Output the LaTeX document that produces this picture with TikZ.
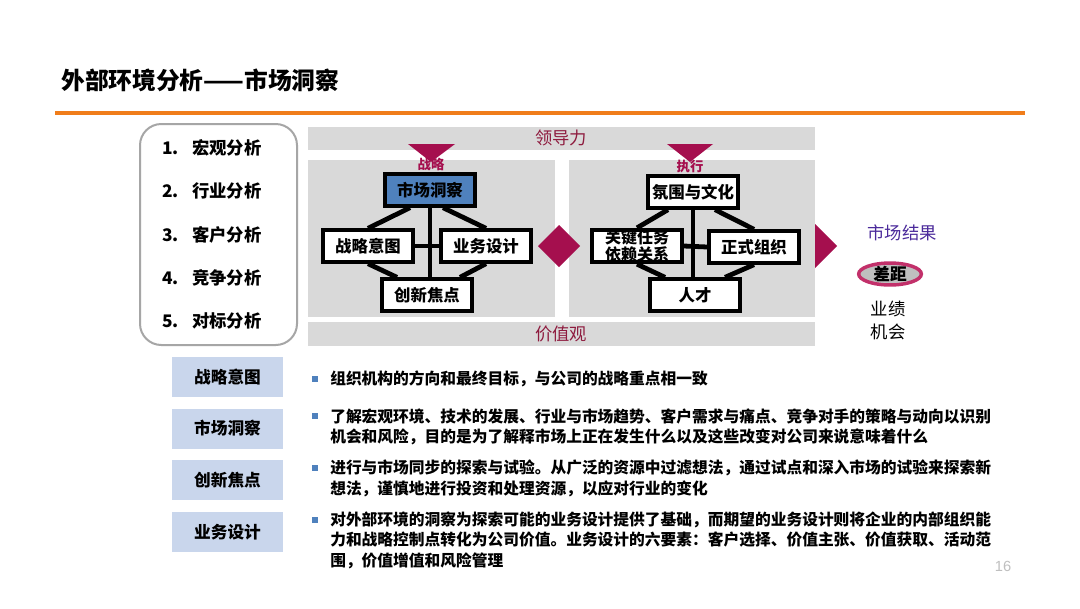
\documentclass[tikz,border=0pt]{standalone}
\usepackage{fontspec}
\setmainfont{Noto Sans CJK SC}
\newfontfamily\numfont{Liberation Sans}
\usetikzlibrary{calc,shapes.geometric}
\pgfdeclarelayer{bg}
\pgfdeclarelayer{mid}
\pgfsetlayers{bg,mid,main}
\definecolor{crim}{HTML}{A50F4E}
\definecolor{crimtxt}{HTML}{8E1B3E}
\definecolor{panel}{HTML}{D9D9D9}
\definecolor{nodeblue}{HTML}{4F81BD}
\definecolor{lblue}{HTML}{C9D6EC}
\definecolor{orng}{HTML}{F07D1A}
\definecolor{listgray}{HTML}{A6A6A6}
\definecolor{purp}{HTML}{4B2A9B}
\definecolor{ellb}{HTML}{C2306A}
\definecolor{pgray}{HTML}{BFBFBF}
\tikzset{
  fs/.style={font=\fontsize{#1}{#1}\selectfont},
  hbox/.style={draw=black, line width=3pt, fill=white, minimum width=67pt, minimum height=23.5pt, inner sep=0pt, font=\fontsize{12.3}{12.75}\selectfont\bfseries, align=center},
  conn/.style={line width=3.6pt, black},
  band/.style={fill=panel, draw=none},
  listnum/.style={anchor=west, inner sep=0pt, font=\fontsize{13}{13}\selectfont\bfseries},
  listtxt/.style={anchor=west, inner sep=0pt, font=\fontsize{13}{13}\selectfont\bfseries},
  lbl/.style={fill=lblue, minimum width=83pt, minimum height=30pt, inner sep=0pt, font=\fontsize{12.5}{12.5}\selectfont\bfseries},
  btxt/.style={anchor=west, inner sep=0pt, font=\fontsize{11.8}{11.8}\selectfont\bfseries},
  bsq/.style={fill=nodeblue, minimum size=4.5pt, inner sep=0pt},
  tri/.style={fill=crim, draw=none},
  smalllbl/.style={text=crim, inner sep=0pt, font=\fontsize{10}{10}\selectfont\bfseries}
}
\begin{document}
\begin{tikzpicture}[x=0.75pt,y=-0.75pt]
\useasboundingbox (0,0) rectangle (1080,608);
\begin{pgfonlayer}{bg}
\fill[white] (0,0) rectangle (1080,608);
% bands and panels
\fill[band] (308,127) rectangle (815,150);
\fill[band] (308,322) rectangle (815,346);
\fill[band] (308,160) rectangle (555,317);
\fill[band] (569,160) rectangle (815,317);
\end{pgfonlayer}
% title
\node[anchor=west, inner sep=0pt, font=\fontsize{17.8}{17.8}\selectfont\bfseries] (title) at (61,80) {外部环境分析——市场洞察};
\draw[orng, line width=3pt] (55,113) -- (1025,113);
% left list
\draw[listgray, line width=1.5pt, rounded corners=16pt] (140,124) rectangle (297,345);
\foreach \i/\t/\y in {1/宏观分析/148,2/行业分析/191,3/客户分析/235,4/竞争分析/278,5/对标分析/321}{
  \node[listnum] (n\i) at (162,\y) {\i.};
  \node[listtxt] (l\i) at (192,\y) {\t};
}
\node[text=crimtxt, fs=13] (ldl) at (561,138) {领导力};
\node[text=crimtxt, fs=13] (jzg) at (561,334) {价值观};
% triangles and diamond
\fill[tri] (408,144) -- (455,144) -- (431,162) -- cycle;
\fill[tri] (667,144) -- (713,144) -- (690,162) -- cycle;
\fill[tri] (559,225) -- (580,246) -- (559,267) -- (538,246) -- cycle;
\fill[tri] (815,224) -- (837,246) -- (815,268) -- cycle;
% left panel
\node[hbox, fill=nodeblue] (sc) at (430,190) {市场洞察};
\node[hbox] (zl) at (368,246) {战略意图};
\node[hbox] (yw) at (486,246) {业务设计};
\node[hbox] (cx) at (427,295) {创新焦点};
% right panel
\node[hbox] (fw) at (693,192) {氛围与文化};
\node[hbox, font=\fontsize{12}{11.5}\selectfont\bfseries] (gj) at (637,246) {关键任务\\依赖关系};
\node[hbox] (zs) at (754,247) {正式组织};
\node[hbox] (rc) at (695,295) {人才};
% connectors behind boxes
\begin{pgfonlayer}{mid}
\draw[conn] (sc.south) -- (sc.south |- cx.north);
\draw[conn] (zl.east) -- (yw.west);
\draw[conn] ($(sc.south)+(-20,0)$) -- (zl.north);
\draw[conn] ($(sc.south)+(13,0)$) -- (yw.north);
\draw[conn] (zl.south) -- ($(cx.north)+(-30,0)$);
\draw[conn] (yw.south) -- ($(cx.north)+(33,0)$);
\draw[conn] (fw.south) -- (fw.south |- rc.north);
\draw[conn] (gj.east) -- (zs.west);
\draw[conn] ($(fw.south)+(-25,0)$) -- (gj.north);
\draw[conn] ($(fw.south)+(22,0)$) -- (zs.north);
\draw[conn] (gj.south) -- ($(rc.north)+(-30,0)$);
\draw[conn] (zs.south) -- ($(rc.north)+(30,0)$);
\end{pgfonlayer}
\node[smalllbl] (zlt) at (431,164) {战略};
\node[smalllbl] (zxt) at (690,166) {执行};
% right side
\node[text=purp, fs=13] (scjg) at (902,233) {市场结果};
\node[ellipse, draw=ellb, line width=2.6pt, fill=pgray, minimum width=47pt, minimum height=15pt, inner sep=0pt, font=\fontsize{12.5}{12.5}\selectfont\bfseries] (cj) at (890,274) {差距};
\node[fs=13, inner sep=0pt] (yj) at (888,309) {业绩};
\node[fs=13, inner sep=0pt] (jh) at (888,332) {机会};
% bottom labels
\node[lbl] (L1) at (227.5,377) {战略意图};
\node[lbl] (L2) at (227.5,428.5) {市场洞察};
\node[lbl] (L3) at (227.5,480) {创新焦点};
\node[lbl] (L4) at (227.5,532) {业务设计};
\node[bsq] (s1) at (315,379) {};
\node[bsq] (s2) at (315,416) {};
\node[bsq] (s3) at (315,468) {};
\node[bsq] (s4) at (315,520) {};
\node[btxt] (t1) at (330,379) {组织机构的方向和最终目标，与公司的战略重点相一致};
\node[btxt] (t2a) at (330,416) {了解宏观环境、技术的发展、行业与市场趋势、客户需求与痛点、竞争对手的策略与动向以识别};
\node[btxt] (t2b) at (330,437) {机会和风险，目的是为了解释市场上正在发生什么以及这些改变对公司来说意味着什么};
\node[btxt] (t3a) at (330,468) {进行与市场同步的探索与试验。从广泛的资源中过滤想法，通过试点和深入市场的试验来探索新};
\node[btxt] (t3b) at (330,489) {想法，谨慎地进行投资和处理资源，以应对行业的变化};
\node[btxt] (t4a) at (330,520) {对外部环境的洞察为探索可能的业务设计提供了基础，而期望的业务设计则将企业的内部组织能};
\node[btxt] (t4b) at (330,540) {力和战略控制点转化为公司价值。业务设计的六要素：客户选择、价值主张、价值获取、活动范};
\node[btxt] (t4c) at (330,561) {围，价值增值和风险管理};
\node[text=pgray, font=\numfont\fontsize{11}{11}\selectfont] (pg) at (1003,566) {16};
\end{tikzpicture}
\end{document}
